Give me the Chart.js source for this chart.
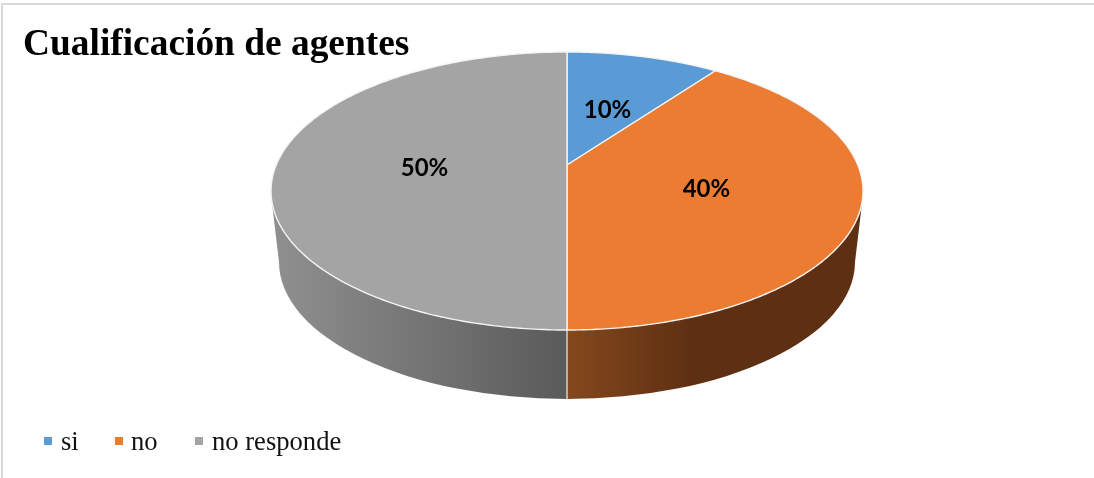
<!DOCTYPE html>
<html>
<head>
<meta charset="utf-8">
<style>html,body{margin:0;padding:0;background:#fff}canvas{display:block}</style>
<script src="https://cdn.jsdelivr.net/npm/chart.js@4"></script>
</head>
<body>
<canvas id="c" width="1094" height="478"></canvas>
<script>
const titleText = 'Cualificación de agentes';
const categories = ['si', 'no', 'no responde'];
const values = [10, 40, 50];
const colors = ['#5b9bd5', '#eb7c31', '#a4a4a4'];
const wallStops = [null, ['#85481c', '#5e3013'], ['#909090', '#5a5a5a']];

const G = {cx: 567, cy: 191, rx: 296, ry: 139, k: 0.187, wallCy: 262, wallRx: 288, wallRy: 137};
const root = Math.sqrt(1 - G.k * G.k);
function project(a, f) {
  const u = f * Math.cos(a), v = -f * Math.sin(a);
  const d = 1 + G.k * v;
  return {x: G.cx + G.rx * u * root / d, y: G.cy - G.ry * (v + G.k) / d, front: v / f < 0.02};
}
function wallPath(ctx) {
  ctx.beginPath();
  ctx.moveTo(G.cx - G.rx, G.cy + 4);
  ctx.lineTo(G.cx - G.wallRx, G.wallCy);
  ctx.ellipse(G.cx, G.wallCy, G.wallRx, G.wallRy, 0, Math.PI, 0, true);
  ctx.lineTo(G.cx + G.rx, G.cy + 4);
  ctx.closePath();
}
const pie3d = {
  id: 'pie3d',
  beforeDatasetDraw(chart, args) {
    const ctx = chart.ctx, arcs = chart.getDatasetMeta(args.index).data;
    const rims = arcs.map(arc => {
      const {startAngle, endAngle} = arc.getProps(['startAngle', 'endAngle'], true);
      const pts = [];
      for (let i = 0; i <= 240; i++) pts.push(project(startAngle + (endAngle - startAngle) * i / 240, 1));
      return pts;
    });
    // side wall
    rims.forEach((pts, i) => {
      const front = pts.filter(p => p.front);
      if (!wallStops[i] || !front.length) return;
      const x0 = Math.min(...front.map(p => p.x)), x1 = Math.max(...front.map(p => p.x));
      const g = ctx.createLinearGradient(x0, 0, x1, 0);
      if (i === 1) {
        g.addColorStop(0, wallStops[i][0]);
        g.addColorStop(0.42, wallStops[i][1]);
        g.addColorStop(1, wallStops[i][1]);
      } else {
        g.addColorStop(0, wallStops[i][0]);
        g.addColorStop(1, wallStops[i][1]);
      }
      ctx.save();
      ctx.beginPath();
      ctx.rect(x0, 0, x1 - x0, chart.height);
      ctx.clip();
      wallPath(ctx);
      ctx.fillStyle = g;
      ctx.fill();
      ctx.restore();
    });
    ctx.save();
    ctx.strokeStyle = '#f2f2f2';
    ctx.lineWidth = 1.2;
    ctx.beginPath();
    ctx.moveTo(G.cx, G.cy + G.ry);
    ctx.lineTo(G.cx, G.wallCy + G.wallRy);
    ctx.stroke();
    // top face
    const ax = G.cx, ay = G.cy - G.ry * G.k;
    rims.forEach((pts, i) => {
      ctx.beginPath();
      ctx.moveTo(ax, ay);
      pts.forEach(p => ctx.lineTo(p.x, p.y));
      ctx.closePath();
      ctx.fillStyle = colors[i];
      ctx.fill();
      ctx.strokeStyle = '#f4f4f4';
      ctx.lineWidth = 1.4;
      ctx.lineJoin = 'round';
      ctx.stroke();
    });
    // value labels
    ctx.fillStyle = '#000';
    ctx.font = 'bold 24px Lato, sans-serif';
    ctx.textAlign = 'center';
    ctx.textBaseline = 'middle';
    const total = values.reduce((a, b) => a + b, 0);
    arcs.forEach((arc, i) => {
      const {startAngle, endAngle} = arc.getProps(['startAngle', 'endAngle'], true);
      const p = project((startAngle + endAngle) / 2, 0.49);
      ctx.fillText(Math.round(values[i] / total * 100) + '%', p.x, p.y + 3);
    });
    ctx.restore();
    return false;
  },
  afterDraw(chart) {
    const ctx = chart.ctx;
    ctx.save();
    // frame
    ctx.fillStyle = '#d9d9d9';
    ctx.fillRect(1, 3, 1093, 2);
    ctx.fillRect(1, 3, 2, 475);
    // legend
    const marks = [44, 115, 195], texts = [61, 131, 212];
    ctx.textBaseline = 'alphabetic';
    ctx.textAlign = 'left';
    ctx.font = '26.6px "Liberation Serif", serif';
    categories.forEach((c, i) => {
      ctx.fillStyle = colors[i];
      ctx.fillRect(marks[i], 437, 8, 8);
      ctx.fillStyle = '#111';
      ctx.fillText(c, texts[i], 450);
    });
    ctx.restore();
  }
};
new Chart(document.getElementById('c'), {
  type: 'pie',
  data: {labels: categories, datasets: [{data: values, backgroundColor: colors}]},
  options: {
    responsive: false,
    animation: false,
    layout: {padding: {left: 23, top: 23}},
    plugins: {
      legend: {display: false},
      tooltip: {enabled: false},
      title: {
        display: true, text: titleText, align: 'start', color: '#000',
        padding: 0,
        font: {family: '"Liberation Serif", serif', weight: 'bold', size: 37.4}
      }
    }
  },
  plugins: [pie3d]
});
</script>
</body>
</html>
